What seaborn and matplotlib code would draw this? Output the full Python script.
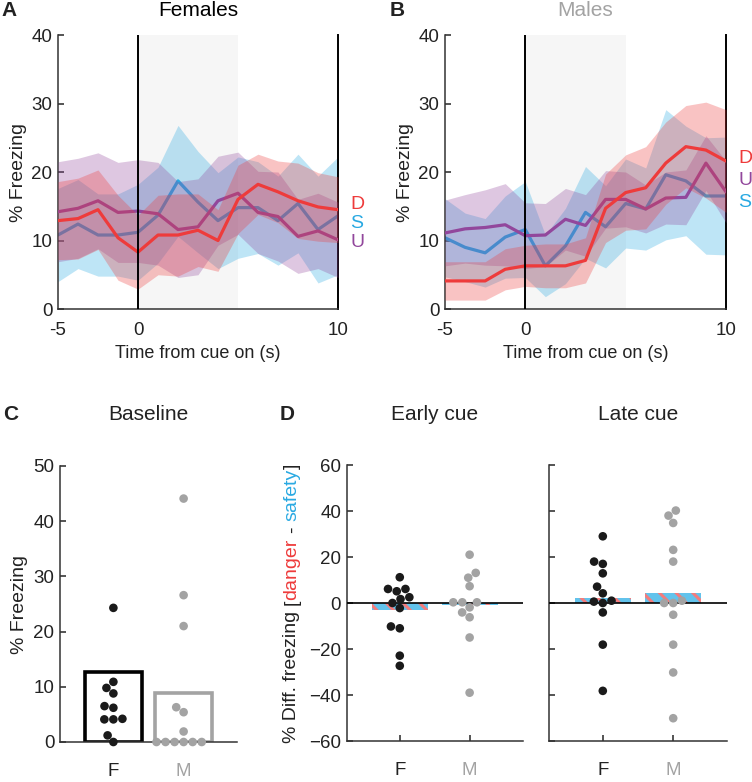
import numpy as np
import matplotlib
matplotlib.use("Agg")
import matplotlib.pyplot as plt
import seaborn as sns

# --- values ---
time_bins = list(range(15))          # 1 s bins, cue on at bin 4
time_ticks = [0, 4, 14]
time_ticklabels = ["-5", "0", "10"]

fem_D = [12.9, 13.2, 14.5, 10.4, 8.3, 10.8, 10.8, 11.5, 10.0, 16.0, 18.2, 17.1, 15.8, 14.9, 14.5]
fem_D_sem = [5.7, 5.9, 5.8, 6.2, 5.4, 5.8, 6.0, 5.3, 4.5, 5.0, 4.4, 4.5, 5.5, 5.0, 4.8]
fem_S = [10.8, 12.4, 10.8, 10.8, 11.2, 13.7, 18.7, 15.6, 12.9, 14.8, 14.8, 12.9, 15.4, 11.6, 13.6]
fem_S_sem = [6.8, 6.5, 6.0, 6.0, 7.0, 7.0, 8.1, 7.4, 7.0, 7.4, 6.7, 6.5, 7.2, 7.8, 8.6]
fem_U = [14.2, 14.7, 15.8, 14.1, 14.3, 13.9, 11.6, 12.0, 15.8, 16.9, 14.1, 13.5, 10.6, 11.4, 10.1]
fem_U_sem = [7.3, 7.3, 7.0, 7.3, 7.5, 7.5, 7.0, 7.0, 6.5, 6.0, 6.0, 6.5, 5.4, 5.5, 5.5]

mal_D = [4.1, 4.1, 4.1, 5.8, 6.3, 6.3, 6.3, 7.1, 14.7, 17.0, 17.7, 21.3, 23.7, 23.2, 21.6]
mal_D_sem = [2.8, 2.8, 2.8, 3.0, 3.0, 3.2, 3.2, 3.3, 5.0, 5.5, 6.0, 6.0, 6.0, 7.0, 7.5]
mal_S = [10.4, 9.0, 8.2, 10.5, 11.6, 6.3, 9.2, 14.1, 12.0, 15.4, 14.6, 19.6, 18.7, 16.5, 16.5]
mal_S_sem = [5.7, 5.0, 5.0, 6.0, 7.0, 4.5, 5.5, 6.7, 6.0, 6.5, 6.0, 9.5, 8.0, 8.5, 8.6]
mal_U = [11.1, 11.7, 11.9, 12.3, 10.7, 10.8, 13.1, 12.2, 16.0, 16.0, 14.6, 16.2, 16.3, 21.3, 17.1]
mal_U_sem = [4.8, 5.0, 5.5, 6.0, 4.8, 4.6, 4.5, 4.5, 4.2, 4.0, 3.5, 3.8, 4.0, 4.0, 4.5]

sexes = ["F", "M"]

base_bar = [12.7, 8.8]
base_F = [24.3, 10.9, 9.8, 8.8, 6.2, 6.5, 4.1, 4.2, 4.1, 1.2, 0.0]
base_M = [44.1, 26.6, 21.0, 6.3, 5.4, 1.9, 0.0, 0.0, 0.0, 0.0, 0.0, 0.0]

early_bar = [-3.1, -0.8]
early_F = [11.2, 5.1, 6.1, 6.1, 1.7, 2.5, 0.0, -2.2, -11.0, -10.2, -22.9, -27.3]
early_M = [21.0, 13.1, 11.0, 7.3, 0.3, 0.3, 0.3, -1.9, -4.1, -6.2, -15.0, -39.0]

late_bar = [2.3, 4.4]
late_F = [29.0, 17.0, 18.0, 12.9, 7.1, 4.2, 1.0, 0.6, 0.0, -4.1, -18.1, -38.2]
late_M = [40.2, 38.0, 34.8, 23.1, 18.0, 0.0, 0.0, 1.0, -5.1, -18.1, -30.2, -50.1]

# --- style ---
sns.set_theme(style="ticks")
plt.rcParams["font.family"] = ["Liberation Sans", "DejaVu Sans"]
plt.rcParams["hatch.linewidth"] = 2.2
plt.rcParams["axes.edgecolor"] = "#333333"
plt.rcParams["axes.linewidth"] = 1.1

RED = "#ee3b3b"
BLUE = "#29a9e2"
PURPLE = "#92479c"
GREY = "#a3a3a3"
TXT = "#222222"
TICK_FS = 13.5
cond_col = {"D": RED, "S": BLUE, "U": PURPLE}

W, H = 752, 782
fig = plt.figure(figsize=(W / 100, H / 100), dpi=100)


def px_axes(x0, x1, y0, y1):
    # pixel box (left, right, top, bottom) -> figure axes
    return fig.add_axes([x0 / W, 1 - y1 / H, (x1 - x0) / W, (y1 - y0) / H])


def trace_panel(ax, series, label_pos):
    ax.axvspan(4, 9, color="#f6f6f6", lw=0, zorder=0)
    z = 1
    for name in ["S", "U", "D"]:
        mean, sem = np.array(series[name][0]), np.array(series[name][1])
        ax.fill_between(time_bins, mean - sem, mean + sem, color=cond_col[name],
                        alpha=0.3, lw=0, zorder=z)
        sns.lineplot(x=time_bins, y=mean, ax=ax, color=cond_col[name], lw=2.3,
                     zorder=z + 1)
        z += 2
    ax.axvline(4, color="black", lw=1.4, zorder=10)
    ax.set_xlim(0, 14)
    ax.set_ylim(0, 40)
    ax.set_xticks(time_ticks, time_ticklabels)
    ax.set_yticks([0, 10, 20, 30, 40])
    ax.tick_params(axis="y", direction="in", length=4, width=1.1, labelsize=TICK_FS,
                   labelcolor=TXT, pad=4)
    ax.tick_params(axis="x", length=0, labelsize=TICK_FS, labelcolor=TXT, pad=9)
    ax.spines["top"].set_visible(False)
    ax.spines["right"].set_color("black")
    ax.spines["right"].set_linewidth(1.4)
    ax.set_xlabel("Time from cue on (s)", fontsize=13, color=TXT, labelpad=5)
    ax.set_ylabel("% Freezing", fontsize=14, color=TXT, labelpad=3)
    for name, yv in label_pos.items():
        ax.text(14.95, yv, name, color=cond_col[name], fontsize=14, ha="center",
                va="center", clip_on=False)


axA = px_axes(58, 338, 35, 309)
trace_panel(axA, {"D": (fem_D, fem_D_sem), "S": (fem_S, fem_S_sem), "U": (fem_U, fem_U_sem)},
            {"D": 15.2, "S": 12.5, "U": 9.7})
axB = px_axes(445, 726, 35, 309)
trace_panel(axB, {"D": (mal_D, mal_D_sem), "S": (mal_S, mal_S_sem), "U": (mal_U, mal_U_sem)},
            {"D": 22.0, "U": 18.8, "S": 15.5})


def dots(ax, f_vals, m_vals, size=6.2):
    x = ["F"] * len(f_vals) + ["M"] * len(m_vals)
    y = list(f_vals) + list(m_vals)
    sns.swarmplot(x=x, y=y, hue=x, order=sexes, hue_order=sexes,
                  palette={"F": "#1a1a1a", "M": GREY}, size=size, legend=False,
                  ax=ax, zorder=5)
    for c in ax.collections:
        c.set_clip_on(False)


def cat_axis(ax, xtick_len):
    ax.set_xlim(-0.76, 1.76)
    ax.spines["top"].set_visible(False)
    ax.spines["right"].set_visible(False)
    ax.tick_params(axis="y", direction="in", length=4, width=1.1, labelsize=TICK_FS,
                   labelcolor=TXT, pad=4)
    ax.tick_params(axis="x", direction="in", length=xtick_len, width=1.1,
                   labelsize=13.5, pad=15)
    labs = ax.get_xticklabels()
    labs[0].set_color(TXT)
    labs[1].set_color(GREY)


# C: baseline
axC = px_axes(60, 237, 466, 742)
sns.barplot(x=sexes, y=base_bar, order=sexes, width=0.81, ax=axC, zorder=2)
for p, ec in zip(axC.patches, ["black", GREY]):
    p.set_facecolor("none")
    p.set_edgecolor(ec)
    p.set_linewidth(2.6)
dots(axC, base_F, base_M)
axC.set_ylim(0, 50)
axC.set_yticks([0, 10, 20, 30, 40, 50])
cat_axis(axC, 0)
axC.set_ylabel("% Freezing", fontsize=14, color=TXT, labelpad=4)
axC.set_xlabel("")

# D: early / late difference scores
def diff_panel(ax, bars, f_vals, m_vals):
    sns.barplot(x=sexes, y=bars, order=sexes, width=0.8, ax=ax, zorder=2)
    for p in ax.patches:
        p.set_facecolor("#62c3ec")
        p.set_edgecolor("#f47c7c")
        p.set_linewidth(0)
        p.set_hatch("\\\\")
    ax.axhline(0, color="black", lw=1.2, zorder=3)
    dots(ax, f_vals, m_vals)
    ax.set_ylim(-60, 60)
    ax.set_yticks(range(-60, 61, 20))
    cat_axis(ax, 4)
    ax.set_xlabel("")


axE = px_axes(346.7, 522.7, 465, 741)
diff_panel(axE, early_bar, early_F, early_M)
axL = px_axes(549.3, 726.7, 465, 741)
diff_panel(axL, late_bar, late_F, late_M)
axL.set_yticklabels([])

# titles and panel letters
fig.text(198 / W, 1 - 1 / H, "Females", ha="center", va="top", fontsize=15, color="black")
fig.text(585.5 / W, 1 - 1 / H, "Males", ha="center", va="top", fontsize=15, color=GREY)
fig.text(148.5 / W, 1 - 415 / H, "Baseline", ha="center", va="center", fontsize=15, color=TXT)
fig.text(434.7 / W, 1 - 415 / H, "Early cue", ha="center", va="center", fontsize=15, color=TXT)
fig.text(638 / W, 1 - 415 / H, "Late cue", ha="center", va="center", fontsize=15, color=TXT)
fig.text(9 / W, 1 - 1 / H, "A", ha="center", va="top", fontsize=15, fontweight="bold", color=TXT)
fig.text(397 / W, 1 - 1 / H, "B", ha="center", va="top", fontsize=15, fontweight="bold", color=TXT)
fig.text(11 / W, 1 - 415 / H, "C", ha="center", va="center", fontsize=15, fontweight="bold", color=TXT)
fig.text(287 / W, 1 - 415 / H, "D", ha="center", va="center", fontsize=15, fontweight="bold", color=TXT)

# multicoloured y label for D, built piece by piece
fig.canvas.draw()
rend = fig.canvas.get_renderer()
probe1 = fig.text(0, 0, "a a", fontsize=14)
probe2 = fig.text(0, 0, "aa", fontsize=14)
space_px = probe1.get_window_extent(rend).width - probe2.get_window_extent(rend).width
probe1.remove()
probe2.remove()
pieces = [("% Diff. freezing", TXT), (" ", None), ("[", TXT), ("danger", RED), (" ", None),
          ("-", TXT), (" ", None), ("safety", BLUE), ("]", TXT)]
lab_x = 292
made = []
total = 0
for s, col in pieces:
    if col is None:
        made.append((None, space_px))
        total += space_px
        continue
    t = fig.text(0, 0, s, fontsize=14, color=col, rotation=90, rotation_mode="anchor",
                 ha="left", va="center")
    h = t.get_window_extent(rend).height
    made.append((t, h))
    total += h
y_start = (H - 603) - total / 2
for t, h in made:
    if t is not None:
        t.set_position((lab_x / W, y_start / H))
    y_start += h

fig.savefig("out.png", dpi=100)
